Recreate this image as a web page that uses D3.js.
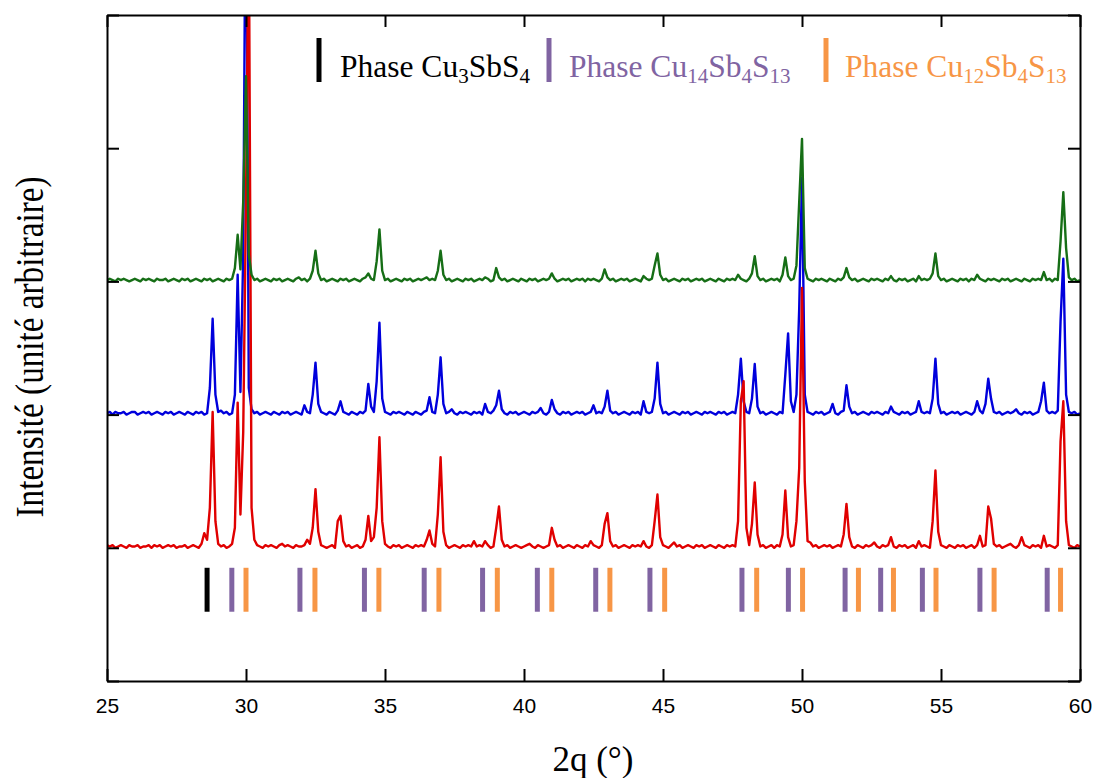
<!DOCTYPE html>
<html>
<head>
<meta charset="utf-8">
<script src="https://cdn.jsdelivr.net/npm/d3@7"></script>
<style>
  html, body { margin: 0; padding: 0; background: #fff; }
  svg { display: block; }
</style>
</head>
<body>
<svg id="chart" width="1095" height="778"></svg>
<script>
// ---- Axis / tick values ----
const xTicks = [25, 30, 35, 40, 45, 50, 55, 60];
const yTicks = [0, 100, 200, 300, 400, 500];
const xStart = 25, xStep = 0.1; // sampling of the patterns (2θ, degrees)

// ---- Series values (arbitrary intensity, one row per degree, 0.1° steps) ----
const redRows = [
  [2,1,2,0,1,2,1,0,2,1],
  [1,2,0,1,1,2,0,2,1,2],
  [0,1,2,1,2,0,1,1,2,0],
  [1,2,1,0,3,11,6,30,102,20],
  [3,1,2,0,1,3,15,109,25,87],
  [260,480,30,6,2,1,0,2,1,2],
  [1,0,2,3,1,2,1,0,2,1],
  [1,2,6,3,15,44,12,2,1,0],
  [1,2,0,20,24,5,1,2,0,1],
  [2,0,1,6,24,5,8,30,83,20],
  [3,1,0,2,1,2,0,1,2,1],
  [0,2,1,2,1,6,13,3,1,25],
  [68,12,2,0,1,2,1,0,2,1],
  [2,1,5,1,2,1,5,2,0,1],
  [15,31,6,1,2,0,1,2,1,0],
  [1,2,3,1,0,2,1,0,1,2],
  [15,6,1,2,0,1,2,1,0,2],
  [1,0,2,1,5,2,1,0,2,18],
  [26,5,1,2,0,1,2,1,0,2],
  [1,2,1,5,1,0,2,20,40,8],
  [2,1,0,2,4,1,2,0,1,2],
  [1,0,2,1,2,0,1,2,1,0],
  [2,1,0,2,1,2,1,20,110,125],
  [15,2,18,49,10,1,2,0,1,2],
  [0,2,1,10,43,8,1,2,20,60],
  [195,50,5,4,1,2,0,1,2,1],
  [2,0,1,2,1,10,33,8,1,0],
  [2,1,0,2,1,2,4,1,0,2],
  [1,2,8,1,0,2,1,2,0,1],
  [2,0,5,1,2,1,0,20,58,12],
  [2,1,0,2,1,0,2,1,2,0],
  [1,2,0,2,9,1,2,31,22,3],
  [1,2,0,1,2,3,1,0,2,8],
  [2,1,0,2,1,2,0,9,1,2],
  [1,0,2,80,110,20,2,1,0,2],
  [1]
];
const blueRows = [
  [1,2,0,2,1,1,2,0,1,2],
  [2,0,1,2,1,2,0,1,2,1],
  [0,2,1,2,0,1,2,1,0,2],
  [1,0,2,1,2,0,1,20,72,15],
  [2,3,1,2,0,1,15,105,17,120],
  [450,20,4,1,2,0,1,2,1,0],
  [2,1,0,2,1,2,0,1,2,1],
  [0,7,2,1,15,39,8,2,1,0],
  [2,1,0,3,10,2,1,0,2,1],
  [0,2,1,3,23,6,2,25,69,12],
  [2,1,0,2,1,2,1,0,2,1],
  [0,2,1,0,2,3,13,2,1,15],
  [43,8,1,2,4,1,0,2,1,2],
  [1,0,2,1,2,0,8,2,1,3],
  [7,18,4,1,0,2,1,2,0,1],
  [2,1,0,2,1,2,5,1,0,2],
  [11,4,1,0,2,1,2,0,1,2],
  [1,2,0,1,2,7,1,2,1,6],
  [18,3,1,2,0,1,2,1,0,2],
  [1,2,0,10,2,1,2,12,39,8],
  [1,2,0,1,2,1,0,2,1,2],
  [0,1,2,1,0,2,1,2,1,0],
  [2,1,2,0,1,2,1,15,42,10],
  [2,1,12,38,6,1,2,0,1,2],
  [1,0,2,1,30,61,10,2,15,80],
  [178,15,2,1,0,2,1,2,0,1],
  [2,8,1,0,2,3,22,6,1,2],
  [0,1,2,1,0,2,1,2,1,0],
  [2,1,6,2,1,0,2,1,2,0],
  [1,2,10,2,1,2,1,12,42,8],
  [1,2,0,1,2,1,2,0,1,2],
  [1,0,2,10,3,1,8,27,12,2],
  [1,2,0,1,2,1,2,4,1,0],
  [2,1,2,0,1,2,10,24,3,1],
  [2,1,3,70,117,15,2,1,2,0],
  [1]
];
const greenRows = [
  [1,2,1,0,2,1,2,1,0,1],
  [2,1,0,2,1,2,1,0,2,1],
  [1,2,0,1,2,1,0,2,1,2],
  [0,1,2,1,0,2,1,2,0,1],
  [2,1,0,2,1,2,10,35,9,60],
  [154,20,5,1,2,0,1,2,1,0],
  [2,1,2,0,1,2,1,0,2,3],
  [1,2,0,2,8,23,6,1,2,0],
  [1,2,1,0,2,1,2,0,1,2],
  [1,0,2,3,6,2,1,15,39,8],
  [1,2,0,1,2,1,0,2,1,2],
  [0,1,2,1,2,3,1,2,1,8],
  [23,5,1,2,0,1,2,1,0,2],
  [1,2,0,1,2,1,3,2,0,1],
  [10,3,1,2,0,1,2,1,0,2],
  [1,0,2,1,2,0,1,2,1,2],
  [6,2,0,1,2,1,2,0,1,2],
  [1,2,0,2,1,2,1,0,2,9],
  [3,1,2,0,1,2,1,2,0,1],
  [2,1,0,4,2,1,2,12,21,5],
  [1,2,0,1,2,1,0,2,1,2],
  [0,1,2,1,2,0,1,2,1,0],
  [2,1,0,2,1,2,1,5,2,1],
  [0,2,6,19,4,1,2,0,1,2],
  [1,2,0,5,18,4,1,2,12,60],
  [107,10,2,1,0,2,1,2,1,0],
  [2,1,0,2,1,3,10,3,1,2],
  [0,1,2,1,0,2,1,2,1,0],
  [2,1,4,1,0,2,1,2,0,1],
  [2,0,4,1,2,1,2,6,21,4],
  [1,2,0,1,2,1,0,2,1,2],
  [0,2,1,5,2,1,0,2,1,2],
  [1,0,2,1,2,0,1,2,1,0],
  [2,1,0,2,1,2,1,7,1,2],
  [0,2,1,30,67,25,3,1,2,0],
  [1]
];
// vertical offsets of the stacked patterns (same arbitrary units)
const seriesNames = ["blue", "red", "green"];
const seriesOffsets = { red: 100, blue: 200, green: 300 };

// ---- Reference phase positions (2θ) ----
const phaseCu3SbS4 = [28.6];
const phaseCu14Sb4S13 = [29.49, 31.94, 34.26, 36.41, 38.51, 40.48, 42.58, 44.53, 47.84, 49.51, 51.55, 52.83, 54.33, 56.40, 58.82];
const phaseCu12Sb4S13 = [30.0, 32.48, 34.78, 36.94, 39.04, 41.0, 43.09, 45.06, 48.37, 50.02, 52.03, 53.29, 54.82, 56.91, 59.30];

// ---- styles ----
const colors = { red: "#e00000", blue: "#0000dc", green: "#166e16" };
const phaseColors = { black: "#000000", purple: "#8064a2", orange: "#f79646" };

const svg = d3.select("#chart");
const L = 107, R = 1080, T = 15, B = 681;
const x = d3.scaleLinear().domain([25, 60]).range([L, R]);
const y = d3.scaleLinear().domain([0, 500]).range([B, T]);

const rowsBy = { red: redRows, blue: blueRows, green: greenRows };
function toPoints(rows) {
  const flat = rows.flat();
  return flat.map((v, i) => [xStart + i * xStep, v]);
}

svg.append("defs").append("clipPath").attr("id", "plotClip")
  .append("rect").attr("x", L).attr("y", T).attr("width", R - L).attr("height", B - T);

const plot = svg.append("g").attr("clip-path", "url(#plotClip)");

seriesNames.forEach(name => {
  const pts = toPoints(rowsBy[name]);
  const off = seriesOffsets[name];
  const line = d3.line().x(d => x(d[0])).y(d => y(off + d[1]));
  plot.append("path")
    .datum(pts)
    .attr("d", line)
    .attr("fill", "none")
    .attr("stroke", colors[name])
    .attr("stroke-width", 2.4)
    .attr("stroke-linejoin", "round");
});

// phase reference bars
const barTop = 85, barBottom = 52;
function drawBars(vals, color) {
  plot.selectAll(null).data(vals).enter().append("line")
    .attr("x1", d => x(d)).attr("x2", d => x(d))
    .attr("y1", y(barTop)).attr("y2", y(barBottom))
    .attr("stroke", color).attr("stroke-width", 5);
}
drawBars(phaseCu3SbS4, phaseColors.black);
drawBars(phaseCu14Sb4S13, phaseColors.purple);
drawBars(phaseCu12Sb4S13, phaseColors.orange);

// axes
const tickStyle = g => {
  g.selectAll(".domain").attr("stroke", "#000").attr("stroke-width", 2);
  g.selectAll(".tick line").attr("stroke", "#000").attr("stroke-width", 2);
};
svg.append("g").attr("transform", `translate(0,${B})`)
  .call(d3.axisBottom(x).tickValues(xTicks).tickSize(-12).tickSizeOuter(0).tickPadding(17).tickFormat(d3.format("d")))
  .call(tickStyle)
  .call(g => g.selectAll("text").attr("font-family", "Liberation Sans, Arial, sans-serif").attr("font-size", 21).attr("fill", "#000"));
svg.append("g").attr("transform", `translate(0,${T})`)
  .call(d3.axisTop(x).tickValues(xTicks).tickSize(-12).tickSizeOuter(0).tickFormat(""))
  .call(tickStyle);
svg.append("g").attr("transform", `translate(${L},0)`)
  .call(d3.axisLeft(y).tickValues(yTicks).tickSize(-12).tickSizeOuter(0).tickFormat(""))
  .call(tickStyle);
svg.append("g").attr("transform", `translate(${R},0)`)
  .call(d3.axisRight(y).tickValues(yTicks).tickSize(-12).tickSizeOuter(0).tickFormat(""))
  .call(tickStyle);

// axis titles
const serif = "Liberation Serif, Times New Roman, serif";
svg.append("text")
  .attr("transform", "translate(43,347) rotate(-90) scale(0.83,1)")
  .attr("text-anchor", "middle")
  .attr("font-family", serif).attr("font-size", 40).attr("fill", "#000")
  .text("Intensité (unité arbitraire)");
svg.append("text")
  .attr("x", 593).attr("y", 771)
  .attr("text-anchor", "middle")
  .attr("font-family", serif).attr("font-size", 35).attr("fill", "#000")
  .text("2q (°)");

// legend
const legendItems = [
  { bx: 319, tx: 340, color: phaseColors.black, parts: [["Phase Cu", 0], ["3", 1], ["SbS", 0], ["4", 1]] },
  { bx: 549, tx: 569, color: phaseColors.purple, parts: [["Phase Cu", 0], ["14", 1], ["Sb", 0], ["4", 1], ["S", 0], ["13", 1]] },
  { bx: 826, tx: 845, color: phaseColors.orange, parts: [["Phase Cu", 0], ["12", 1], ["Sb", 0], ["4", 1], ["S", 0], ["13", 1]] }
];
legendItems.forEach(it => {
  svg.append("line").attr("x1", it.bx).attr("x2", it.bx).attr("y1", 38).attr("y2", 82)
    .attr("stroke", it.color).attr("stroke-width", 5);
  const t = svg.append("text").attr("x", it.tx).attr("y", 77)
    .attr("font-family", serif).attr("font-size", 31.5).attr("fill", it.color);
  let sub = false;
  it.parts.forEach(([s, isSub]) => {
    const ts = t.append("tspan").text(s);
    if (isSub && !sub) { ts.attr("font-size", 21).attr("dy", 6); sub = true; }
    else if (isSub) { ts.attr("font-size", 21); }
    else if (!isSub && sub) { ts.attr("dy", -6); sub = false; }
  });
});
</script>
</body>
</html>
